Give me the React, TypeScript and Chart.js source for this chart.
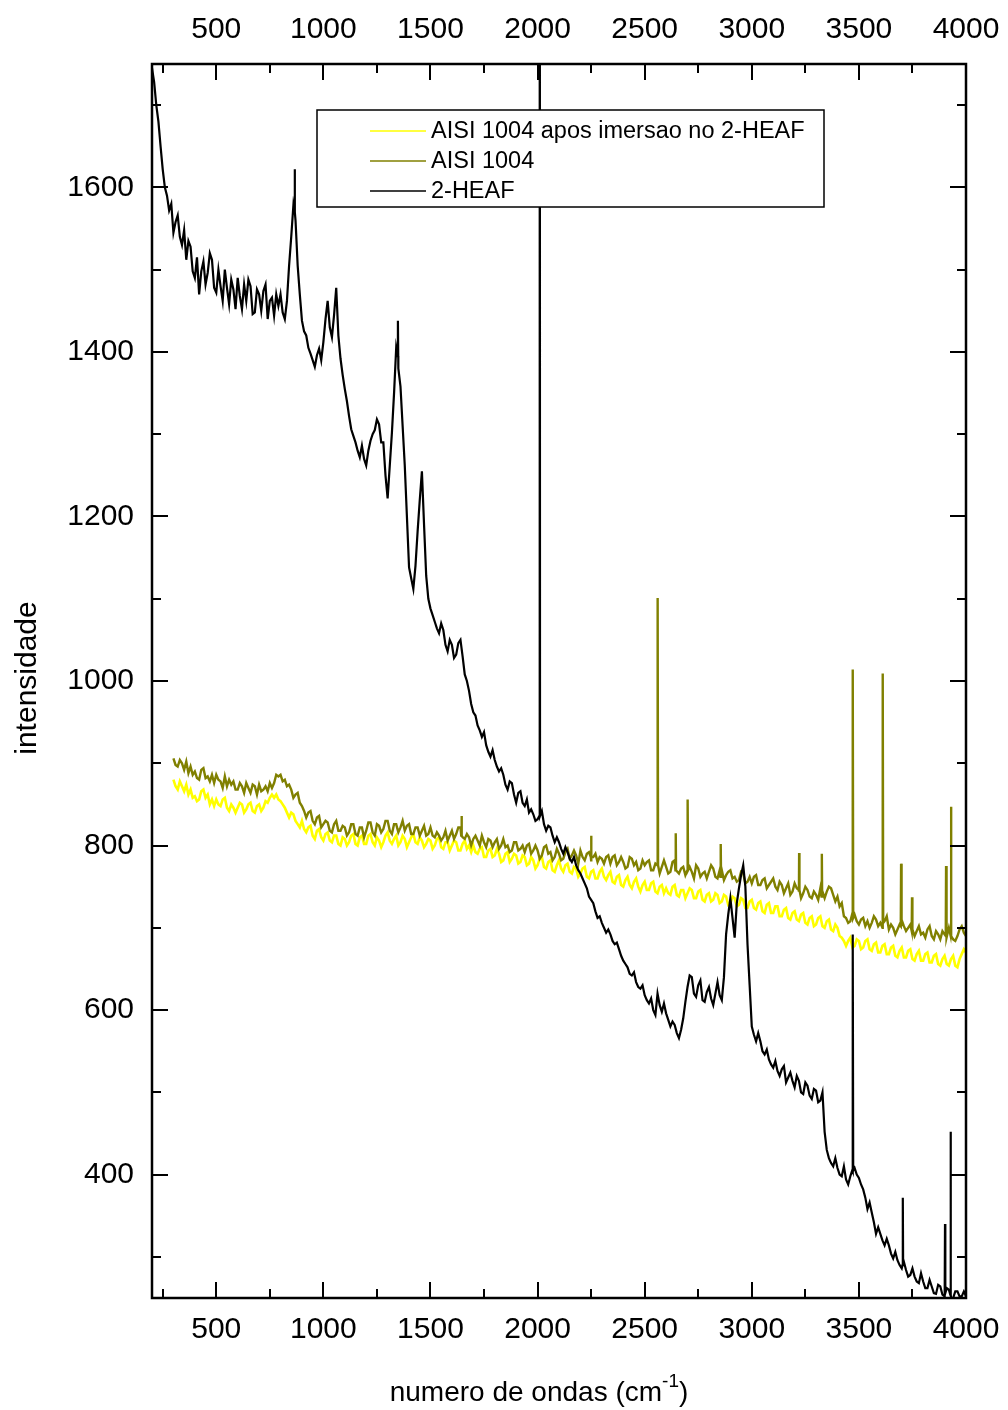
import React, { useEffect, useRef } from "react";
import { Chart, registerables } from "chart.js";

Chart.register(...registerables);

// ---------- axes ----------
const X_MIN = 200;
const X_MAX = 4000;
const Y_MIN = 250;
const Y_MAX = 1750;
const xTickValues = [500, 1000, 1500, 2000, 2500, 3000, 3500, 4000];
const xMinorTickValues = [250, 750, 1250, 1750, 2250, 2750, 3250, 3750];
const yTickValues = [400, 600, 800, 1000, 1200, 1400, 1600];
const yMinorTickValues = [300, 500, 700, 900, 1100, 1300, 1500, 1700];

const xTitle = "numero de ondas (cm";
const xTitleSup = "-1";
const yTitle = "intensidade";

// ---------- series (sampled every 10 cm-1) ----------
const SAMPLE_STEP = 10;

const heafStart = 200;
const heafValues = [
  1745, 1728, 1700, 1680, 1650, 1622, 1600, 1590, 1572, 1580,
  1545, 1558, 1566, 1540, 1530, 1548, 1512, 1535, 1528, 1498,
  1490, 1515, 1470, 1498, 1510, 1482, 1496, 1520, 1512, 1478,
  1472, 1500, 1480, 1462, 1500, 1478, 1458, 1488, 1476, 1452,
  1490, 1468, 1452, 1482, 1462, 1488, 1480, 1446, 1448, 1476,
  1470, 1450, 1474, 1482, 1440, 1462, 1466, 1444, 1470, 1456,
  1470, 1448, 1440, 1462, 1505, 1540, 1578, 1560, 1505, 1470,
  1438, 1425, 1420, 1405, 1398, 1390, 1382, 1396, 1404, 1390,
  1412, 1440, 1462, 1430, 1418, 1445, 1478, 1420, 1392, 1372,
  1355, 1340, 1322, 1306, 1298, 1290, 1280, 1272, 1286, 1270,
  1262, 1280, 1292, 1300, 1305, 1318, 1312, 1290, 1290, 1250,
  1222, 1262, 1302, 1350, 1405, 1380, 1358, 1310, 1262, 1200,
  1138, 1125, 1112, 1140, 1182, 1220, 1255, 1190, 1128, 1100,
  1088, 1080, 1072, 1064, 1058, 1070, 1062, 1044, 1036, 1050,
  1044, 1028, 1032, 1046, 1050, 1030, 1008, 1000, 988, 972,
  962, 958, 946, 940, 932, 938, 922, 914, 908, 916,
  904, 896, 890, 894, 886, 874, 868, 878, 876, 862,
  852, 864, 866, 852, 848, 856, 840, 844, 838, 830,
  832, 836, 842, 826, 818, 824, 822, 812, 804, 810,
  804, 796, 790, 798, 792, 784, 780, 786, 776, 770,
  766, 760, 754, 748, 738, 734, 730, 720, 712, 714,
  706, 700, 694, 698, 692, 684, 680, 682, 674, 666,
  660, 656, 652, 644, 642, 646, 634, 628, 626, 630,
  618, 612, 608, 614, 600, 594, 620, 606, 598, 608,
  596, 588, 580, 586, 582, 572, 566, 576, 590, 610,
  628, 642, 640, 620, 616, 630, 636, 612, 610, 622,
  628, 614, 606, 620, 634, 618, 612, 640, 692, 716,
  736, 712, 688, 730, 748, 764, 776, 750, 680, 630,
  580, 570, 562, 572, 562, 550, 546, 552, 540, 534,
  530, 538, 526, 520, 528, 532, 512, 518, 524, 514,
  506, 520, 514, 500, 498, 512, 508, 496, 492, 504,
  502, 488, 490, 500, 452, 430, 420, 414, 410, 420,
  408, 400, 398, 410, 394, 388, 398, 406, 408, 400,
  396, 388, 382, 372, 358, 366, 354, 342, 328, 336,
  328, 320, 314, 322, 314, 304, 298, 306, 296, 290,
  286, 294, 284, 276, 278, 286, 276, 270, 268, 280,
  270, 262, 262, 272, 264, 256, 255, 266, 264, 254,
  252, 262, 260, 250, 250, 258, 258, 252, 252, 258,
  252,
];
const heafSpikeX = [866, 1348, 2010, 3472, 3705, 3902, 3928];
const heafSpikeTop = [1622, 1438, 2600, 692, 372, 340, 452];
const heafSpikeBase = [1570, 1395, 836, 405, 290, 256, 254];

const aisiStart = 300;
const aisiValues = [
  906, 898, 896, 904, 900, 892, 902, 888, 896, 886,
  890, 882, 880, 892, 894, 882, 884, 878, 886, 876,
  886, 880, 878, 870, 884, 872, 880, 874, 878, 868,
  868, 876, 872, 864, 876, 870, 864, 874, 872, 862,
  874, 866, 868, 872, 866, 876, 870, 876, 886, 884,
  886, 878, 880, 872, 874, 868, 858, 862, 864, 852,
  848, 842, 834, 840, 842, 830, 826, 834, 836, 822,
  826, 830, 828, 818, 816, 826, 830, 818, 818, 824,
  822, 812, 816, 826, 826, 814, 812, 822, 822, 810,
  818, 828, 828, 816, 812, 826, 824, 816, 820, 830,
  830, 818, 814, 826, 826, 816, 822, 830, 818, 824,
  826, 814, 814, 822, 822, 812, 818, 824, 812, 814,
  822, 812, 810, 816, 812, 806, 810, 818, 806, 812,
  818, 808, 814, 822, 822, 810, 808, 814, 810, 800,
  808, 812, 806, 800, 812, 804, 798, 808, 806, 798,
  804, 808, 796, 800, 808, 798, 800, 792, 794, 804,
  804, 794, 796, 800, 792, 800, 802, 790, 794, 800,
  794, 784, 788, 798, 800, 790, 792, 782, 786, 796,
  790, 782, 784, 792, 796, 784, 788, 794, 788, 778,
  794, 786, 782, 790, 792, 782, 786, 790, 780, 786,
  784, 778, 786, 788, 778, 786, 788, 776, 780, 786,
  780, 772, 774, 786, 784, 776, 780, 770, 772, 782,
  776, 780, 782, 770, 770, 778, 778, 766, 774, 782,
  774, 766, 768, 780, 782, 770, 766, 772, 774, 764,
  770, 774, 768, 760, 776, 772, 762, 766, 768, 760,
  768, 776, 772, 762, 760, 770, 770, 758, 764, 768,
  770, 760, 762, 756, 758, 768, 766, 754, 756, 762,
  754, 762, 764, 752, 752, 758, 760, 748, 752, 756,
  760, 750, 746, 756, 752, 742, 748, 754, 740, 744,
  754, 748, 744, 736, 742, 750, 746, 738, 736, 744,
  740, 734, 748, 744, 736, 744, 750, 748, 740, 732,
  738, 726, 730, 714, 712, 706, 708, 718, 716, 708,
  704, 710, 712, 702, 708, 700, 706, 714, 710, 702,
  706, 700, 708, 714, 698, 704, 700, 692, 698, 704,
  710, 702, 696, 700, 704, 698, 690, 696, 702, 692,
  694, 688, 698, 702, 690, 686, 696, 692, 686, 696,
  692, 688, 700, 694, 686, 684, 690, 698, 702, 694,
  690,
];
const aisiSpikeX = [1645, 2250, 2561, 2645, 2701, 2855, 3221, 3327, 3472, 3612, 3697, 3748, 3907, 3930];
const aisiSpikeTop = [836, 812, 1101, 815, 856, 802, 791, 790, 1014, 1009, 778, 737, 775, 847];
const aisiSpikeBase = [812, 786, 776, 770, 770, 762, 746, 738, 712, 706, 702, 696, 690, 690];

const immersedStart = 300;
const immersedValues = [
  880, 872, 868, 878, 872, 866, 874, 862, 868, 858,
  860, 854, 856, 866, 868, 858, 862, 850, 856, 848,
  856, 850, 848, 856, 858, 846, 842, 850, 846, 840,
  846, 852, 850, 840, 844, 850, 852, 842, 840, 848,
  850, 842, 846, 854, 852, 858, 862, 858, 862, 856,
  854, 850, 846, 840, 834, 840, 838, 830, 826, 822,
  830, 820, 816, 822, 824, 812, 808, 818, 820, 810,
  806, 814, 816, 806, 804, 812, 812, 802, 800, 810,
  808, 800, 804, 812, 814, 802, 800, 810, 812, 802,
  802, 812, 814, 804, 800, 810, 806, 798, 804, 812,
  816, 806, 802, 808, 812, 800, 804, 812, 808, 798,
  804, 810, 814, 804, 802, 810, 806, 798, 802, 808,
  806, 796, 800, 808, 810, 798, 796, 804, 804, 794,
  800, 806, 804, 794, 794, 802, 806, 796, 800, 792,
  800, 792, 790, 796, 798, 786, 786, 794, 796, 786,
  788, 796, 790, 780, 782, 790, 792, 780, 784, 790,
  788, 778, 780, 788, 786, 776, 778, 786, 782, 772,
  776, 784, 786, 774, 772, 780, 782, 770, 768, 776,
  782, 772, 768, 776, 778, 768, 766, 774, 772, 762,
  766, 772, 774, 762, 760, 768, 770, 760, 760, 768,
  772, 762, 758, 764, 768, 756, 754, 762, 764, 752,
  750, 758, 762, 752, 748, 756, 760, 750, 744, 752,
  756, 746, 746, 754, 756, 744, 742, 750, 752, 742,
  748, 742, 740, 750, 752, 740, 738, 746, 746, 736,
  742, 748, 746, 736, 736, 744, 746, 734, 732, 740,
  742, 732, 734, 742, 740, 730, 732, 740, 738, 728,
  730, 738, 736, 726, 728, 736, 734, 724, 724, 732,
  734, 724, 722, 730, 732, 720, 718, 728, 730, 718,
  718, 726, 726, 714, 714, 722, 724, 712, 710, 718,
  720, 710, 708, 716, 718, 706, 704, 712, 714, 702,
  704, 712, 714, 702, 700, 708, 710, 698, 696, 704,
  700, 690, 688, 684, 678, 684, 688, 676, 678, 686,
  684, 674, 676, 684, 686, 674, 672, 680, 682, 670,
  670, 678, 680, 668, 668, 676, 678, 666, 664, 672,
  676, 664, 664, 672, 674, 662, 660, 668, 672, 660,
  660, 668, 670, 658, 658, 666, 668, 656, 654, 662,
  666, 656, 654, 662, 666, 654, 652, 662, 668, 674,
  670,
];

const legendLabels = ["AISI 1004 apos imersao no 2-HEAF", "AISI 1004", "2-HEAF"];
const seriesColors = ["#ffff00", "#808000", "#000000"];

// ---------- helpers ----------
type Pt = { x: number; y: number };

function buildPoints(
  start: number,
  values: number[],
  spikeX: number[] = [],
  spikeTop: number[] = [],
  spikeBase: number[] = []
): Pt[] {
  const pts: Pt[] = values.map((v, i) => ({ x: start + i * SAMPLE_STEP, y: v }));
  spikeX.forEach((sx, i) => {
    pts.push({ x: sx - 1.5, y: spikeBase[i] });
    pts.push({ x: sx, y: spikeTop[i] });
    pts.push({ x: sx + 1.5, y: spikeBase[i] });
  });
  pts.sort((a, b) => a.x - b.x);
  return pts;
}

const FONT = "'Liberation Sans', Arial, Helvetica, sans-serif";

const framePlugin = {
  id: "frameTicks",
  afterDatasetsDraw(chart: any) {
    const ctx = chart.ctx as CanvasRenderingContext2D;
    const { left, right, top, bottom } = chart.chartArea;
    const xs = chart.scales.x;
    const ys = chart.scales.y;
    ctx.save();
    ctx.strokeStyle = "#000";
    ctx.lineWidth = 2;
    ctx.lineCap = "butt";
    const MAJ = 16;
    const MIN = 9;
    ctx.beginPath();
    const vTick = (v: number, len: number) => {
      const px = Math.round(xs.getPixelForValue(v));
      ctx.moveTo(px, bottom);
      ctx.lineTo(px, bottom - len);
      ctx.moveTo(px, top);
      ctx.lineTo(px, top + len);
    };
    const hTick = (v: number, len: number) => {
      const py = Math.round(ys.getPixelForValue(v));
      ctx.moveTo(left, py);
      ctx.lineTo(left + len, py);
      ctx.moveTo(right, py);
      ctx.lineTo(right - len, py);
    };
    xTickValues.forEach((v) => vTick(v, MAJ));
    xMinorTickValues.forEach((v) => vTick(v, MIN));
    yTickValues.forEach((v) => hTick(v, MAJ));
    yMinorTickValues.forEach((v) => hTick(v, MIN));
    ctx.stroke();
    ctx.lineWidth = 2.5;
    ctx.strokeRect(left, top, right - left, bottom - top);

    // legend
    const bx = 317, by = 110, bw = 507, bh = 97;
    ctx.fillStyle = "#fff";
    ctx.fillRect(bx, by, bw, bh);
    ctx.lineWidth = 1.5;
    ctx.strokeStyle = "#000";
    ctx.strokeRect(bx, by, bw, bh);
    ctx.font = `23.5px ${FONT}`;
    ctx.textBaseline = "middle";
    ctx.textAlign = "left";
    const rowsY = [131, 161, 191];
    legendLabels.forEach((lab, i) => {
      ctx.strokeStyle = seriesColors[i];
      ctx.lineWidth = 1.5;
      ctx.beginPath();
      ctx.moveTo(370, rowsY[i]);
      ctx.lineTo(426, rowsY[i]);
      ctx.stroke();
      ctx.fillStyle = "#000";
      ctx.fillText(lab, 431, rowsY[i] + 1);
    });

    // axis titles
    ctx.fillStyle = "#000";
    ctx.font = `28px ${FONT}`;
    ctx.textBaseline = "alphabetic";
    const mainW = ctx.measureText(xTitle).width;
    ctx.font = `19px ${FONT}`;
    const supW = ctx.measureText(xTitleSup).width;
    ctx.font = `28px ${FONT}`;
    const closeW = ctx.measureText(")").width;
    const total = mainW + supW + closeW;
    const cx = 539;
    let tx = cx - total / 2;
    const baseY = 1401;
    ctx.textAlign = "left";
    ctx.fillText(xTitle, tx, baseY);
    tx += mainW;
    ctx.font = `19px ${FONT}`;
    ctx.fillText(xTitleSup, tx, baseY - 14);
    tx += supW;
    ctx.font = `28px ${FONT}`;
    ctx.fillText(")", tx, baseY);

    ctx.save();
    ctx.translate(36, 678);
    ctx.rotate(-Math.PI / 2);
    ctx.font = `30px ${FONT}`;
    ctx.textAlign = "center";
    ctx.textBaseline = "alphabetic";
    ctx.fillText(yTitle, 0, 0);
    ctx.restore();

    ctx.restore();
  },
};

const noSidePadding = (s: any) => {
  s.paddingLeft = 0;
  s.paddingRight = 0;
};

export default function App() {
  const canvasRef = useRef<HTMLCanvasElement | null>(null);

  useEffect(() => {
    const canvas = canvasRef.current;
    if (!canvas) return;

    const heafPts = buildPoints(heafStart, heafValues, heafSpikeX, heafSpikeTop, heafSpikeBase);
    const aisiPts = buildPoints(aisiStart, aisiValues, aisiSpikeX, aisiSpikeTop, aisiSpikeBase);
    const immersedPts = buildPoints(immersedStart, immersedValues);

    const tickFont = { family: FONT, size: 30 };

    const chart = new Chart(canvas, {
      type: "line",
      data: {
        datasets: [
          {
            label: legendLabels[2],
            data: heafPts,
            borderColor: seriesColors[2],
            borderWidth: 2.2,
            pointRadius: 0,
            tension: 0,
            order: 0,
          },
          {
            label: legendLabels[1],
            data: aisiPts,
            borderColor: seriesColors[1],
            borderWidth: 2.4,
            pointRadius: 0,
            tension: 0,
            order: 1,
          },
          {
            label: legendLabels[0],
            data: immersedPts,
            borderColor: seriesColors[0],
            borderWidth: 2.6,
            pointRadius: 0,
            tension: 0,
            order: 2,
          },
        ],
      },
      options: {
        responsive: false,
        animation: false,
        events: [],
        layout: { padding: { left: 0, right: 42, top: 0, bottom: 0 } },
        plugins: {
          legend: { display: false },
          tooltip: { enabled: false },
          title: { display: false },
        },
        scales: {
          x: {
            type: "linear",
            position: "bottom",
            min: X_MIN,
            max: X_MAX,
            grid: { display: false, drawTicks: false },
            border: { display: false },
            afterBuildTicks: (s: any) => {
              s.ticks = xTickValues.map((v) => ({ value: v }));
            },
            afterFit: (s: any) => {
              s.height = 112;
              noSidePadding(s);
            },
            ticks: {
              padding: 14,
              font: tickFont,
              color: "#000",
              maxRotation: 0,
              autoSkip: false,
              callback: (v: any) => String(v),
            },
          },
          xTop: {
            type: "linear",
            axis: "x",
            position: "top",
            min: X_MIN,
            max: X_MAX,
            grid: { display: false, drawTicks: false },
            border: { display: false },
            afterBuildTicks: (s: any) => {
              s.ticks = xTickValues.map((v) => ({ value: v }));
            },
            afterFit: (s: any) => {
              s.height = 64;
              noSidePadding(s);
            },
            ticks: {
              padding: 16,
              font: tickFont,
              color: "#000",
              maxRotation: 0,
              autoSkip: false,
              callback: (v: any) => String(v),
            },
          },
          y: {
            type: "linear",
            position: "left",
            min: Y_MIN,
            max: Y_MAX,
            grid: { display: false, drawTicks: false },
            border: { display: false },
            afterBuildTicks: (s: any) => {
              s.ticks = yTickValues.map((v) => ({ value: v }));
            },
            afterFit: (s: any) => {
              s.width = 152;
            },
            ticks: {
              padding: 18,
              font: tickFont,
              color: "#000",
              autoSkip: false,
              callback: (v: any) => String(v),
            },
          },
        },
      } as any,
      plugins: [framePlugin],
    });

    return () => {
      chart.destroy();
    };
  }, []);

  return (
    <div style={{ position: "absolute", left: 0, top: 0, width: 1008, height: 1410, background: "#fff" }}>
      <canvas ref={canvasRef} width={1008} height={1410} style={{ display: "block" }} />
    </div>
  );
}
